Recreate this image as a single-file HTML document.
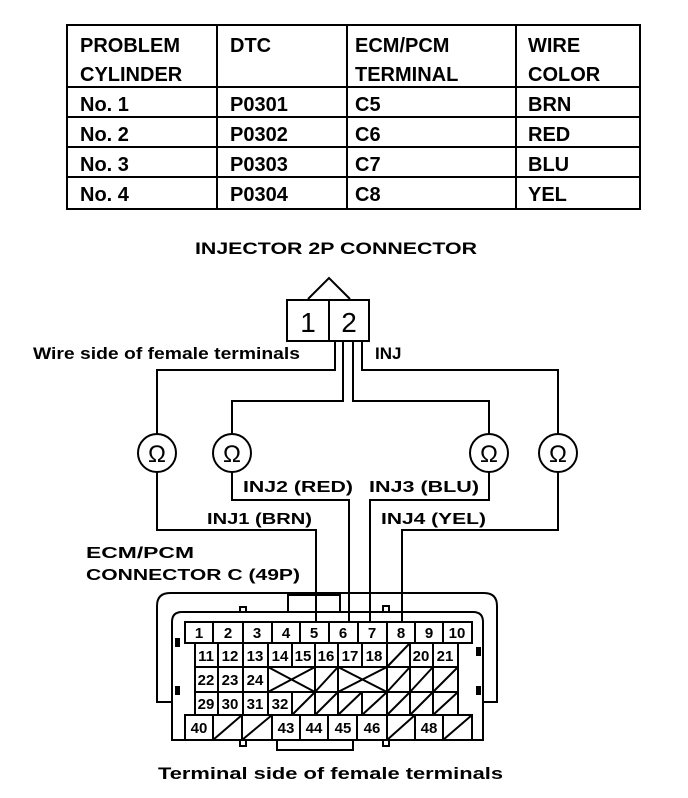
<!DOCTYPE html>
<html><head><meta charset="utf-8"><style>
html,body{margin:0;padding:0;background:#fff}
svg{display:block}
text{font-family:"Liberation Sans",Arial,sans-serif;fill:#000}
.b{font-weight:bold}
</style></head><body>
<svg width="688" height="798" viewBox="0 0 688 798" xmlns="http://www.w3.org/2000/svg">
<g stroke="#000" fill="none" stroke-width="2">
<rect x="67" y="25" width="573" height="184"/>
<line x1="67" y1="87" x2="640" y2="87"/>
<line x1="67" y1="117" x2="640" y2="117"/>
<line x1="67" y1="147" x2="640" y2="147"/>
<line x1="67" y1="177" x2="640" y2="177"/>
<line x1="217" y1="25" x2="217" y2="209"/>
<line x1="347" y1="25" x2="347" y2="209"/>
<line x1="516" y1="25" x2="516" y2="209"/>
</g>
<g class="b" font-size="20">
<text x="80" y="52">PROBLEM</text>
<text x="80" y="81">CYLINDER</text>
<text x="230" y="52">DTC</text>
<text x="355" y="52">ECM/PCM</text>
<text x="355" y="81">TERMINAL</text>
<text x="528" y="52">WIRE</text>
<text x="528" y="81">COLOR</text>
</g>
<g font-size="20" font-weight="bold">
<text x="80" y="111">No. 1</text><text x="230" y="111">P0301</text><text x="355" y="111">C5</text><text x="528" y="111">BRN</text>
<text x="80" y="141">No. 2</text><text x="230" y="141">P0302</text><text x="355" y="141">C6</text><text x="528" y="141">RED</text>
<text x="80" y="171">No. 3</text><text x="230" y="171">P0303</text><text x="355" y="171">C7</text><text x="528" y="171">BLU</text>
<text x="80" y="201">No. 4</text><text x="230" y="201">P0304</text><text x="355" y="201">C8</text><text x="528" y="201">YEL</text>
</g>
<text x="195" y="254" font-size="17" class="b" textLength="282" lengthAdjust="spacingAndGlyphs">INJECTOR 2P CONNECTOR</text>
<text x="33" y="359" font-size="17" textLength="267" lengthAdjust="spacingAndGlyphs" font-weight="bold">Wire side of female terminals</text>
<text x="375" y="359" font-size="17" class="b">INJ</text>
<g stroke="#000" fill="none" stroke-width="2">
<polyline points="308,299 329,278 350,299"/>
<rect x="287" y="300" width="82" height="41"/>
<line x1="329" y1="300" x2="329" y2="341"/>
<polyline points="335,341 335,370 157,370 157,434"/>
<polyline points="343,341 343,401 232,401 232,434"/>
<polyline points="353,341 353,401 489,401 489,434"/>
<polyline points="362,341 362,370 558,370 558,434"/>
<circle cx="157" cy="453" r="19"/><circle cx="232" cy="453" r="19"/>
<circle cx="489" cy="453" r="19"/><circle cx="558" cy="453" r="19"/>
<polyline points="157,472 157,530 316,530 316,622"/>
<polyline points="232,472 232,500 349,500 349,622"/>
<polyline points="489,472 489,500 370,500 370,622"/>
<polyline points="558,472 558,530 402,530 402,622"/>
</g>
<text x="308" y="332" font-size="28" text-anchor="middle">1</text>
<text x="349" y="332" font-size="28" text-anchor="middle">2</text>
<g font-size="24" text-anchor="middle">
<text x="157" y="462">Ω</text><text x="232" y="462">Ω</text><text x="489" y="462">Ω</text><text x="558" y="462">Ω</text>
</g>
<g font-size="16" class="b" font-weight="bold">
<text x="243" y="492" textLength="110" lengthAdjust="spacingAndGlyphs">INJ2 (RED)</text>
<text x="369" y="492" textLength="110" lengthAdjust="spacingAndGlyphs">INJ3 (BLU)</text>
<text x="207" y="524" textLength="105" lengthAdjust="spacingAndGlyphs">INJ1 (BRN)</text>
<text x="381" y="524" textLength="105" lengthAdjust="spacingAndGlyphs">INJ4 (YEL)</text>
<text x="86" y="558" textLength="108" lengthAdjust="spacingAndGlyphs">ECM/PCM</text>
<text x="86" y="580" textLength="214" lengthAdjust="spacingAndGlyphs">CONNECTOR C (49P)</text>
</g>
<g stroke="#000" fill="none" stroke-width="2">
<path d="M172,702 L157,702 L157,606 Q157,593 170,593 L484,593 Q497,593 497,606 L497,702 L483,702"/>
<path d="M172,740 L172,622 Q172,612 182,612 L473,612 Q483,612 483,622 L483,740 Z"/>
<rect x="288" y="595" width="52" height="17"/>
<rect x="277" y="740" width="76" height="10"/>
<rect x="240" y="607" width="6" height="5"/><rect x="383" y="606" width="6" height="6"/>
<rect x="240" y="740" width="6" height="6"/><rect x="383" y="740" width="6" height="6"/>
<rect x="185" y="622" width="287" height="21"/>
<path d="M213,622V643M243,622V643M272,622V643M300,622V643M329,622V643M358,622V643M387,622V643M415,622V643M443,622V643"/>
<rect x="195" y="643" width="263" height="72"/>
<line x1="195" y1="667" x2="458" y2="667"/><line x1="195" y1="692" x2="458" y2="692"/>
<path d="M218,643V715M243,643V715M268,643V715M292,643V667M292,692V715M315,643V715M338,643V715M362,643V667M362,692V715M387,643V715M410,643V715M433,643V715"/>
<path d="M387,667L410,643M268,667L315,692M268,692L315,667M315,692L338,667M338,667L387,692M338,692L387,667M387,692L410,667M410,692L433,667M433,692L458,667"/>
<path d="M292,715L315,692M315,715L338,692M338,715L362,692M362,715L387,692M387,715L410,692M410,715L433,692M433,715L458,692"/>
<rect x="185" y="715" width="287" height="25"/>
<path d="M213,715V740M242,715V740M272,715V740M300,715V740M328,715V740M357,715V740M387,715V740M415,715V740M443,715V740"/>
<path d="M213,740L242,715M242,740L272,715M387,740L415,715M443,740L472,715"/>
</g>
<rect x="175" y="638" width="5" height="9" fill="#000"/><rect x="175" y="686" width="5" height="9" fill="#000"/>
<rect x="476" y="647" width="5" height="9" fill="#000"/><rect x="476" y="686" width="5" height="9" fill="#000"/>
<g font-size="15" font-weight="bold" text-anchor="middle">
<text x="199" y="638">1</text><text x="228" y="638">2</text><text x="257" y="638">3</text><text x="286" y="638">4</text><text x="314" y="638">5</text><text x="343" y="638">6</text><text x="372" y="638">7</text><text x="401" y="638">8</text><text x="429" y="638">9</text><text x="457" y="638">10</text>
<text x="206" y="661">11</text><text x="230" y="661">12</text><text x="255" y="661">13</text><text x="280" y="661">14</text><text x="303" y="661">15</text><text x="326" y="661">16</text><text x="350" y="661">17</text><text x="374" y="661">18</text><text x="421" y="661">20</text><text x="445" y="661">21</text>
<text x="206" y="685">22</text><text x="230" y="685">23</text><text x="255" y="685">24</text>
<text x="206" y="709">29</text><text x="230" y="709">30</text><text x="255" y="709">31</text><text x="280" y="709">32</text>
<text x="199" y="733">40</text><text x="286" y="733">43</text><text x="314" y="733">44</text><text x="343" y="733">45</text><text x="372" y="733">46</text><text x="429" y="733">48</text>
</g>
<text x="158" y="779" font-size="17" textLength="345" lengthAdjust="spacingAndGlyphs" font-weight="bold">Terminal side of female terminals</text>
</svg>
</body></html>
